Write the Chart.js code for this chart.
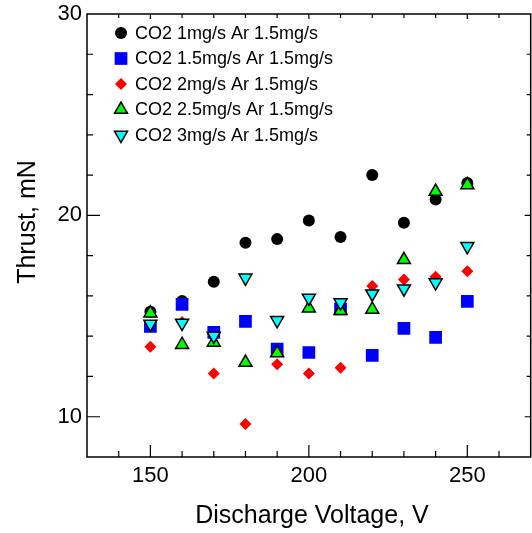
<!DOCTYPE html>
<html>
<head>
<meta charset="utf-8">
<script src="https://cdn.jsdelivr.net/npm/chart.js@4"></script>
<style>
  html, body { margin: 0; padding: 0; background: #fff; }
  #wrap { width: 532px; height: 533px; position: relative; }
</style>
</head>
<body>
<div id="wrap"><canvas id="chart"></canvas></div>
<script>
// --- data ---
const voltage = [150, 160, 170, 180, 190, 200, 210, 220, 230, 240, 250];

const co2_1   = [15.21, 15.75, 16.70, 18.64, 18.82, 19.75, 18.93, 22.00, 19.63, 20.79, 21.61];
const co2_15  = [14.49, 15.58, 14.19, 14.73, 13.36, 13.19, 15.35, 13.05, 14.39, 13.94, 15.73];
const co2_2   = [13.47, 14.70, 12.15,  9.64, 12.60, 12.15, 12.43, 16.49, 16.82, 16.95, 17.23];
const co2_25  = [15.14, 13.58, 13.69, 12.69, 13.16, 15.39, 15.26, 15.33, 17.79, 21.18, 21.51];
const co2_3   = [14.61, 14.65, 14.01, 16.90, 14.79, 15.90, 15.67, 16.11, 16.36, 16.66, 18.46];

const seriesLabels = [
  'CO2 1mg/s Ar 1.5mg/s',
  'CO2 1.5mg/s Ar 1.5mg/s',
  'CO2 2mg/s Ar 1.5mg/s',
  'CO2 2.5mg/s Ar 1.5mg/s',
  'CO2 3mg/s Ar 1.5mg/s'
];

const xTitle = 'Discharge Voltage, V';
const yTitle = 'Thrust, mN';

const FONT = '"Liberation Sans", Arial, sans-serif';

// marker styles per series
const styles = [
  { pointStyle: 'circle',   radius: 6,   rotation: 0,   bg: '#000000', border: '#000000', bw: 0 },
  { pointStyle: 'rect',     radius: 9,   rotation: 0,   bg: '#0000ff', border: '#0000ff', bw: 0 },
  { pointStyle: 'rectRot',  radius: 6,   rotation: 0,   bg: '#ff0000', border: '#ff0000', bw: 0 },
  { pointStyle: 'triangle', radius: 7.5, rotation: 0,   bg: '#00ff00', border: '#000000', bw: 1.5 },
  { pointStyle: 'triangle', radius: 7.5, rotation: 180, bg: '#00ffff', border: '#000000', bw: 1.5 }
];

const allSeries = [co2_1, co2_15, co2_2, co2_25, co2_3];

const datasets = allSeries.map((vals, i) => ({
  label: seriesLabels[i],
  data: voltage.map((v, k) => ({ x: v, y: vals[k] })),
  showLine: false,
  pointStyle: styles[i].pointStyle,
  pointRadius: styles[i].radius,
  pointHoverRadius: styles[i].radius,
  pointRotation: styles[i].rotation,
  backgroundColor: styles[i].bg,
  borderColor: styles[i].border,
  pointBorderWidth: styles[i].bw,
  order: allSeries.length - i // later series drawn on top
}));

// frame, inward ticks, axis titles and the legend inside the plot
const decorations = {
  id: 'decorations',
  afterDraw(chart) {
    const { ctx, chartArea: a, scales: { x, y } } = chart;
    ctx.save();
    ctx.strokeStyle = '#000';
    ctx.lineWidth = 1.5;
    ctx.strokeRect(a.left, a.top, a.right - a.left, a.bottom - a.top);

    ctx.lineWidth = 1.2;
    ctx.beginPath();
    x.ticks.forEach(t => {
      const px = x.getPixelForValue(t.value);
      if (px <= a.left + 1 || px >= a.right - 1) return;
      const major = t.value % 50 === 0;
      ctx.moveTo(px, a.bottom); ctx.lineTo(px, a.bottom - (major ? 12 : 6));
      ctx.moveTo(px, a.top);    ctx.lineTo(px, a.top + (major ? 5 : 4));
    });
    y.ticks.forEach(t => {
      const py = y.getPixelForValue(t.value);
      if (py <= a.top + 1 || py >= a.bottom - 1) return;
      const major = t.value % 10 === 0;
      ctx.moveTo(a.left, py);  ctx.lineTo(a.left + (major ? 13 : 6), py);
      ctx.moveTo(a.right, py); ctx.lineTo(a.right - (major ? 6 : 4), py);
    });
    ctx.stroke();

    // axis titles
    ctx.fillStyle = '#000';
    ctx.font = '25px ' + FONT;
    ctx.textAlign = 'center';
    ctx.textBaseline = 'middle';
    ctx.fillText(xTitle, 312, 516);
    ctx.save();
    ctx.translate(28, 222);
    ctx.rotate(-Math.PI / 2);
    ctx.fillText(yTitle, 0, 0);
    ctx.restore();

    // legend
    ctx.font = '18px ' + FONT;
    ctx.textAlign = 'left';
    chart.data.datasets.forEach((ds, i) => {
      const ly = 33 + i * 25.5;
      const st = styles[i];
      ctx.fillStyle = st.bg;
      ctx.strokeStyle = st.border;
      ctx.lineWidth = st.bw;
      Chart.helpers.drawPoint(ctx, {
        pointStyle: st.pointStyle, radius: st.radius,
        rotation: st.rotation, borderWidth: st.bw
      }, 121, ly);
      ctx.fillStyle = '#000';
      ctx.fillText(ds.label, 135, ly + 1);
    });
    ctx.restore();
  }
};

new Chart(document.getElementById('chart'), {
  type: 'scatter',
  data: { datasets },
  options: {
    responsive: true,
    maintainAspectRatio: false,
    animation: false,
    layout: { autoPadding: false, padding: { top: 14, right: 1.3, left: 0, bottom: 0 } },
    plugins: {
      legend: { display: false },
      tooltip: { enabled: false }
    },
    scales: {
      x: {
        type: 'linear',
        min: 130, max: 270,
        grid: { display: false, drawTicks: false },
        border: { display: false },
        ticks: {
          stepSize: 10, autoSkip: false, maxRotation: 0,
          padding: 6, color: '#000',
          font: { family: FONT, size: 22 },
          callback: v => (v % 50 === 0 ? String(v) : '')
        },
        afterFit: s => { s.height = 76; s.paddingLeft = 0; s.paddingRight = 0; }
      },
      y: {
        type: 'linear',
        min: 8, max: 30,
        grid: { display: false, drawTicks: false },
        border: { display: false },
        ticks: {
          stepSize: 2, autoSkip: false,
          padding: 5, color: '#000',
          font: { family: FONT, size: 22 },
          callback: v => (v % 10 === 0 ? String(v) : '')
        },
        afterFit: s => { s.width = 87; s.paddingTop = 0; s.paddingBottom = 0; }
      }
    }
  },
  plugins: [decorations]
});
</script>
</body>
</html>
